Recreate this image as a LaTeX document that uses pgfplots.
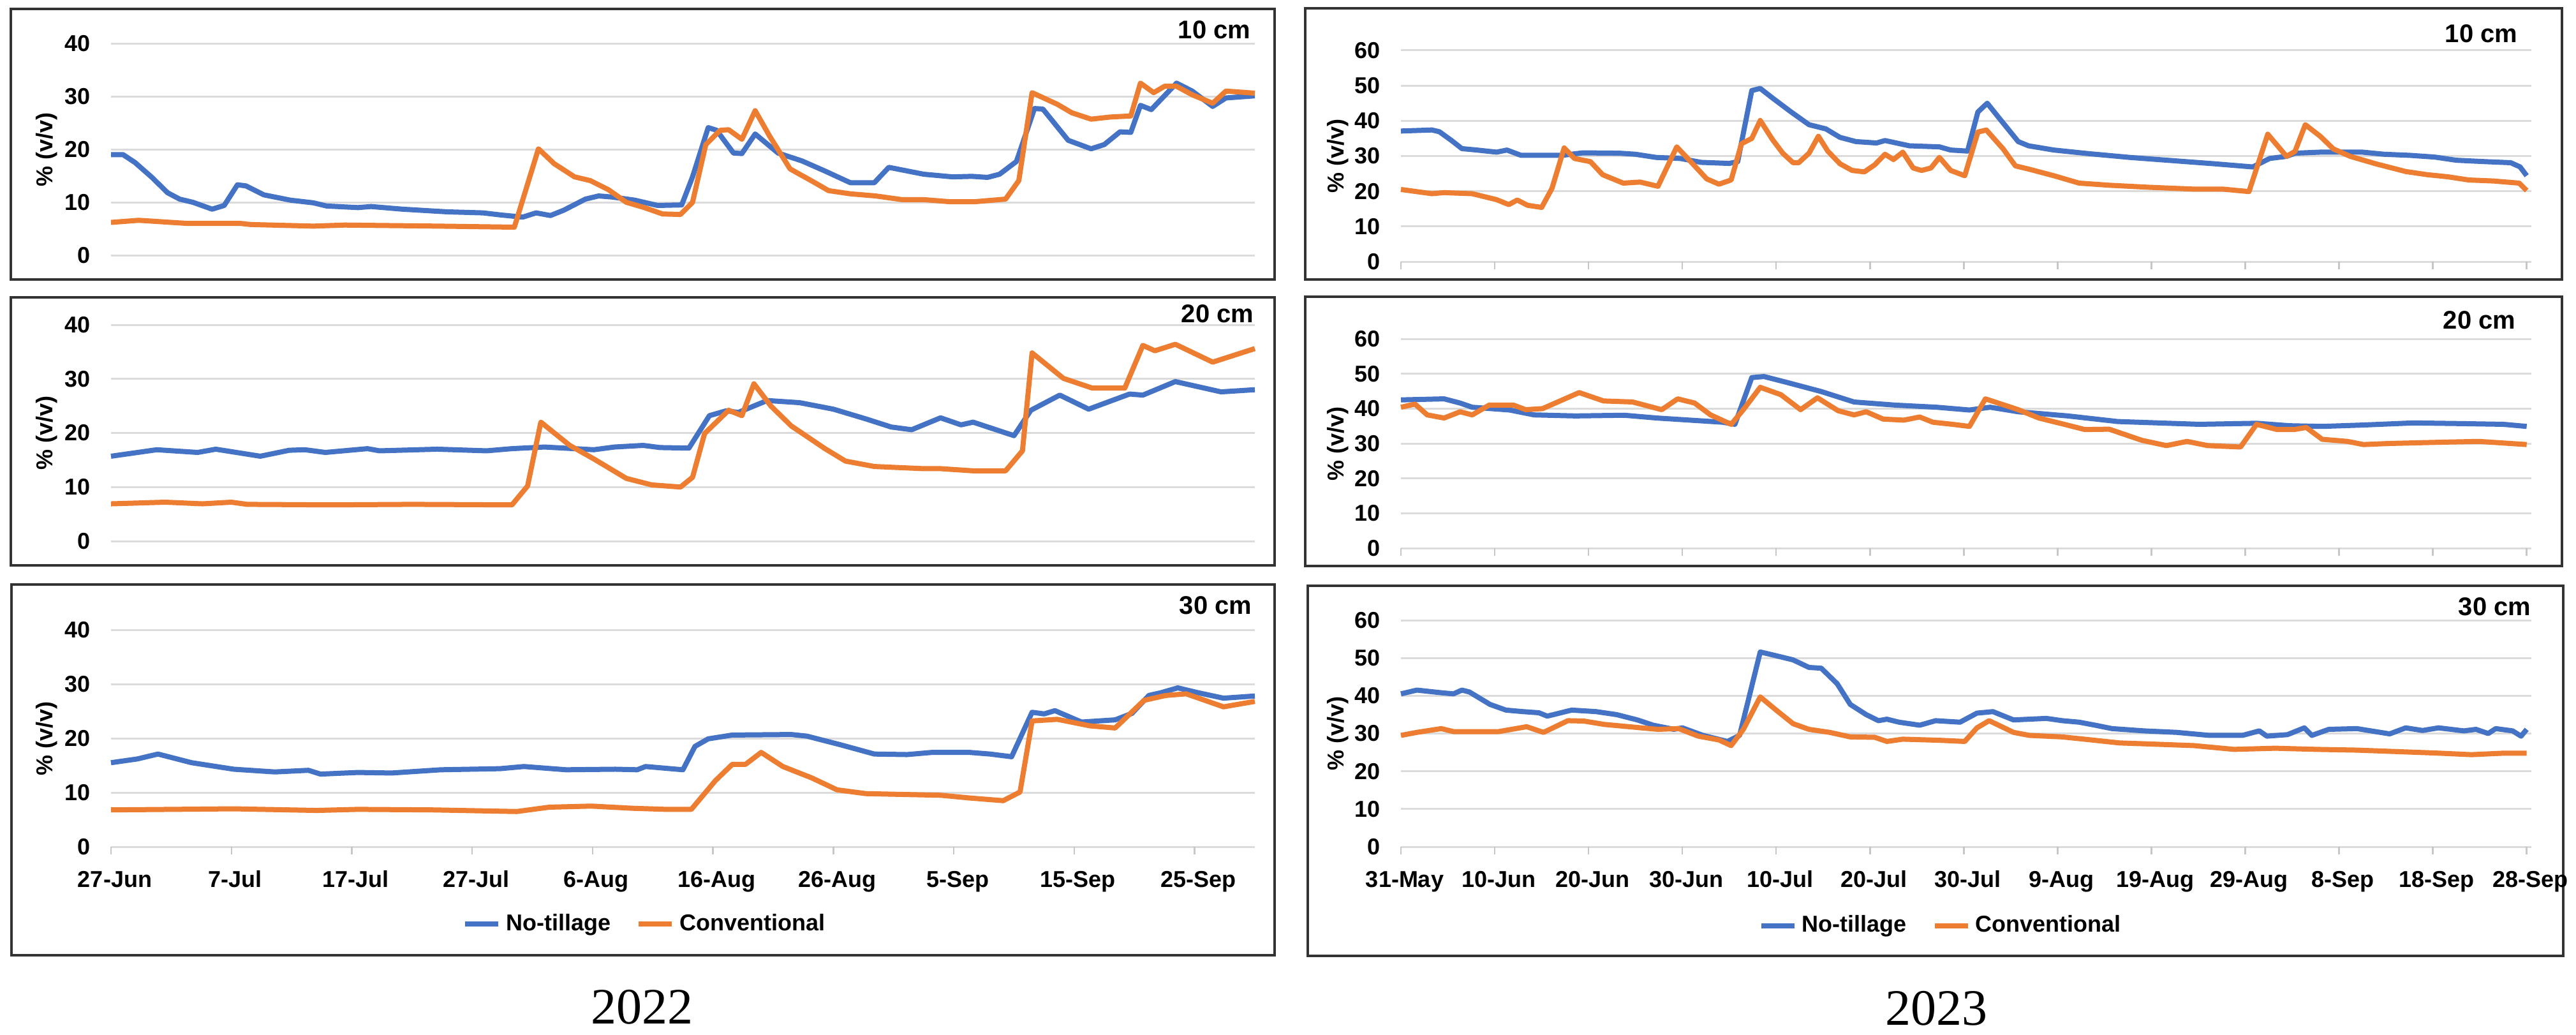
\documentclass[border=0pt]{standalone}
\usepackage{fontspec}
\setmainfont{Liberation Sans}
\newfontfamily\yearfont{Liberation Serif}
\usepackage{pgfplots}
\pgfplotsset{compat=1.18}
\definecolor{ntblue}{HTML}{4472C4}
\definecolor{cvorange}{HTML}{ED7D31}
\newcommand{\tickfont}{\bfseries\fontsize{9}{10}\selectfont}
\pgfplotsset{
  base/.style={
    scale only axis, anchor=south west,
    ymin=0,
    axis line style={draw=none},
    ymajorgrids, grid style={draw=black!14, line width=0.75pt},
    ytick style={draw=none},
    xtick pos=bottom, ytick pos=left,
    tick align=inside, major tick length=3pt,
    xtick style={draw=black!22, line width=0.6pt, yshift=-3pt},
    ticklabel style={font=\tickfont},
    /pgf/number format/assume math mode=true,
    yticklabel style={xshift=-4.5pt},
    xticklabel style={anchor=base, yshift=-15.8pt, xshift=1.5pt},
    ylabel={\% (v/v)},
    ylabel style={font=\tickfont, at={(axis description cs:-0.056,0.5)}, anchor=center},
    clip=false,
    legend style={draw=none, fill=none, legend columns=2, font=\tickfont,
      /tikz/every even column/.append style={column sep=8pt}},
    legend image code/.code={\draw[#1] (0pt,0pt) -- (13pt,0pt);},
  },
  y22/.style={base, width=448.25pt, xmin=0, xmax=95, ymax=40, ytick={0,10,20,30,40}, xtick={0,10,...,90}},
  y23/.style={base, width=443pt, xmin=0, xmax=120.5, ymax=60, ytick={0,10,...,60}, xtick={0,10,...,120}},
  nt/.style={color=ntblue, line width=2pt, mark=none, line join=round},
  cv/.style={color=cvorange, line width=2pt, mark=none, line join=round},
}
\begin{document}
\begin{tikzpicture}
\path[use as bounding box, fill=white] (0,0) rectangle (1009.5pt,-405.25pt);
% frames
\draw[black!80, line width=0.9pt] (4.25pt,-3.5pt) rectangle (499.5pt,-109.5pt);
\draw[black!80, line width=0.9pt] (4.25pt,-116.5pt) rectangle (499.5pt,-221.5pt);
\draw[black!80, line width=0.9pt] (4.5pt,-229pt) rectangle (499.5pt,-374.25pt);
\draw[black!80, line width=0.9pt] (511.5pt,-3.25pt) rectangle (1004pt,-109.5pt);
\draw[black!80, line width=0.9pt] (511.5pt,-116.25pt) rectangle (1004pt,-221.75pt);
\draw[black!80, line width=0.9pt] (512.5pt,-229.5pt) rectangle (1004.5pt,-374.5pt);

% ===== 2022, 10 cm =====
\begin{axis}[y22, at={(43.5pt,-100pt)}, height=83pt, xticklabels={}, xtick style={draw=none}]
\addplot[nt] coordinates {(0,19.0)(1,19.0)(2,17.5)(3.4,14.7)(4.7,11.8)(5.7,10.6)(6.8,10.0)(8.4,8.7)(9.4,9.4)(10.5,13.3)(11.2,13.1)(12.7,11.4)(14.9,10.4)(16.8,9.9)(17.9,9.3)(20.5,9.0)(21.6,9.2)(24.2,8.7)(27.9,8.2)(30.9,8.0)(32.4,7.6)(34.2,7.2)(35.3,8.0)(36.5,7.5)(37.6,8.5)(39.4,10.6)(40.5,11.2)(41.6,11.0)(43.5,10.4)(45.4,9.4)(47.4,9.5)(48.3,14.8)(49.6,24.1)(50.3,23.6)(51.7,19.3)(52.4,19.2)(53.5,22.9)(55.4,19.3)(57.4,17.8)(59.3,15.9)(61.4,13.7)(63.4,13.7)(64.6,16.6)(67.5,15.3)(69.9,14.8)(71.5,14.9)(72.8,14.7)(73.8,15.3)(75.2,17.7)(76.7,27.7)(77.4,27.6)(79.5,21.7)(81.4,20.1)(82.5,20.9)(83.8,23.3)(84.7,23.2)(85.5,28.3)(86.4,27.5)(88.5,32.5)(89.8,31.0)(91.5,28.1)(92.6,29.7)(95,30.1)};
\addplot[cv] coordinates {(0,6.2)(2.3,6.6)(6.4,6.0)(10.8,6.0)(11.6,5.8)(16.8,5.5)(19.4,5.7)(27.2,5.5)(33.5,5.3)(35.5,20.1)(36.8,17.3)(38.5,14.8)(39.8,14.1)(41.3,12.4)(42.8,10.0)(44.3,9.0)(45.8,7.8)(47.3,7.7)(48.3,10.0)(49.4,20.9)(50.6,23.6)(51.3,23.7)(52.4,21.9)(53.5,27.3)(54.7,22.5)(56.4,16.3)(58.3,13.9)(59.6,12.2)(61.4,11.6)(63.5,11.2)(65.7,10.5)(67.5,10.5)(69.7,10.1)(71.7,10.1)(74.3,10.6)(75.4,14.1)(76.5,30.7)(78.6,28.5)(79.8,26.9)(81.4,25.7)(83.0,26.1)(84.7,26.3)(85.5,32.5)(86.6,30.7)(87.5,31.9)(88.5,31.9)(89.8,30.3)(91.5,28.7)(92.6,31.0)(95,30.6)};
\end{axis}

% ===== 2022, 20 cm =====
\begin{axis}[y22, at={(43.5pt,-212pt)}, height=84.75pt, xticklabels={}, xtick style={draw=none}]
\addplot[nt] coordinates {(0,15.7)(3.8,16.9)(7.2,16.4)(8.7,17.0)(12.4,15.7)(14.8,16.8)(16.1,16.9)(17.8,16.4)(21.3,17.1)(22.3,16.7)(27.1,17.0)(31.2,16.7)(33.3,17.1)(36,17.4)(40.1,16.9)(41.8,17.4)(44.2,17.7)(45.6,17.3)(48,17.2)(49.7,23.2)(51.1,24.1)(52.1,23.8)(54.5,26.0)(57.2,25.6)(60,24.4)(62.7,22.6)(64.8,21.1)(66.5,20.6)(68.9,22.8)(70.6,21.5)(71.6,22.0)(75,19.5)(76.4,24.2)(78.8,27.0)(81.2,24.4)(84.6,27.2)(85.7,27.0)(88.4,29.5)(92.2,27.6)(95,28.0)};
\addplot[cv] coordinates {(0,6.9)(4.5,7.2)(7.6,6.9)(10,7.2)(11.3,6.8)(18.2,6.7)(25,6.8)(33.3,6.7)(34.6,10.2)(35.7,22.0)(38.1,17.7)(40.1,15.2)(42.8,11.6)(44.9,10.4)(47.3,10.0)(48.3,11.8)(49.3,19.9)(51.3,24.2)(52.4,23.2)(53.4,29.1)(54.8,25.0)(56.5,21.3)(59.3,17.1)(61,14.8)(63.4,13.8)(67.5,13.4)(68.9,13.4)(71.6,13.0)(74.3,13.0)(75.7,16.7)(76.5,34.8)(79.1,30.1)(81.5,28.3)(84.2,28.3)(85.7,36.2)(86.7,35.2)(88.4,36.4)(91.5,33.1)(95,35.6)};
\end{axis}

% ===== 2022, 30 cm =====
\begin{axis}[y22, at={(43.5pt,-331.75pt)}, height=85pt,
  xticklabels={27-Jun,7-Jul,17-Jul,27-Jul,6-Aug,16-Aug,26-Aug,5-Sep,15-Sep,25-Sep},
  legend style={at={(0.468,-0.356)}, anchor=center}]
\addplot[nt] coordinates {(0,15.5)(2.2,16.2)(3.9,17.1)(6.7,15.5)(10.2,14.3)(13.6,13.8)(16.4,14.1)(17.4,13.4)(20.5,13.7)(23.3,13.6)(27.4,14.2)(32.3,14.4)(34.3,14.8)(37.8,14.2)(41.9,14.3)(43.7,14.2)(44.4,14.8)(47.5,14.2)(48.5,18.5)(49.6,19.9)(51.6,20.6)(56.5,20.7)(57.8,20.4)(60.6,18.8)(63.4,17.1)(66.1,17.0)(68.2,17.4)(71.3,17.4)(73,17.1)(74.8,16.6)(76.5,24.8)(77.5,24.5)(78.4,25.1)(80.6,23.0)(83.4,23.4)(84.8,24.6)(86.2,27.9)(87.2,28.4)(88.6,29.3)(90.3,28.4)(92.4,27.4)(95,27.8)};
\addplot[cv] coordinates {(0,6.8)(10.2,7.0)(17.1,6.7)(20.5,6.9)(26.7,6.8)(33.7,6.5)(36.4,7.3)(39.9,7.5)(43.3,7.1)(46.1,6.9)(48.2,6.9)(50.2,12.2)(51.6,15.2)(52.7,15.2)(54,17.4)(55.8,14.8)(58.2,12.7)(60.3,10.5)(62.7,9.8)(66.8,9.6)(68.9,9.5)(71.3,9.0)(74.1,8.5)(75.5,10.1)(76.5,23.2)(78.6,23.5)(81.3,22.3)(83.4,21.9)(85.8,27.0)(87.6,27.9)(89.3,28.2)(92.4,25.8)(95,26.8)};
\legend{No-tillage,Conventional}
\end{axis}

% ===== 2023, 10 cm =====
\begin{axis}[y23, at={(549pt,-102.5pt)}, height=82.75pt, xticklabels={}]
\addplot[nt] coordinates {(0,37.1)(3.3,37.4)(4.1,36.9)(5.4,34.4)(6.5,32.1)(8.1,31.7)(10.2,31.1)(11.3,31.7)(12.8,30.2)(17.2,30.2)(19.4,30.9)(23.3,30.8)(25,30.5)(27.2,29.6)(29.8,29.3)(32,28.2)(35,27.9)(35.9,28.4)(37.4,48.6)(38.3,49.2)(39.6,46.5)(41.6,42.5)(43.5,38.9)(45.3,37.7)(46.8,35.3)(48.5,34.1)(50.7,33.7)(51.6,34.4)(54.2,32.9)(57.4,32.6)(58.6,31.7)(60.4,31.4)(61.5,42.5)(62.5,45.0)(63.7,41.0)(65.8,34.1)(66.9,32.9)(69.6,31.7)(73.2,30.7)(77.7,29.6)(82.2,28.7)(86.7,27.8)(90.8,26.9)(92.6,29.3)(94.4,29.9)(95.3,30.8)(98,31.1)(102.5,31.1)(104.8,30.5)(107.5,30.2)(110.2,29.7)(112.5,28.8)(115.6,28.4)(118.3,28.1)(119.3,26.9)(120,24.4)};
\addplot[cv] coordinates {(0,20.5)(3.3,19.3)(4.6,19.6)(7.6,19.3)(10.2,17.6)(11.5,16.2)(12.4,17.5)(13.5,16.0)(15,15.4)(16.1,20.8)(17.4,32.3)(18.5,29.3)(20.2,28.4)(21.5,24.7)(23.7,22.3)(25.5,22.6)(27.4,21.4)(29.4,32.6)(31.1,27.8)(32.6,23.5)(33.9,22.0)(35.2,23.2)(36.3,33.5)(37.4,35.0)(38.3,40.1)(39.6,34.7)(40.7,30.8)(41.8,28.1)(42.4,28.1)(43.5,30.8)(44.5,35.6)(45.5,31.4)(46.8,27.8)(48.1,25.9)(49.4,25.5)(50.5,27.5)(51.6,30.5)(52.5,29.0)(53.5,31.1)(54.6,26.6)(55.5,25.9)(56.5,26.6)(57.4,29.6)(58.6,25.9)(60.1,24.4)(61.5,36.8)(62.4,37.4)(64.2,32.0)(65.5,27.2)(66.9,26.3)(69.6,24.4)(72.3,22.3)(75.5,21.7)(79.9,21.1)(84.5,20.6)(87.6,20.6)(90.4,19.9)(92.4,36.2)(94.4,29.9)(95.3,31.3)(96.4,38.9)(98,35.6)(99.4,32.0)(101.2,29.9)(103.9,27.8)(107.1,25.6)(109.4,24.7)(111.6,24.1)(113.8,23.2)(116.5,22.9)(119.2,22.3)(120,20.2)};
\end{axis}

% ===== 2023, 20 cm =====
\begin{axis}[y23, at={(549pt,-214.75pt)}, height=82pt, xticklabels={}]
\addplot[nt] coordinates {(0,42.5)(4.6,42.8)(6.3,41.6)(7.6,40.4)(11.6,39.6)(14.2,38.2)(18.6,37.9)(23.8,38.1)(27.3,37.3)(30.8,36.7)(34.3,36.1)(35.6,35.5)(37.4,48.9)(38.7,49.2)(41.3,47.4)(44.8,44.9)(48.3,41.9)(52.7,41.0)(57.1,40.4)(60.6,39.6)(62.8,40.4)(65.8,39.1)(71.1,37.9)(76.4,36.3)(80.7,35.9)(85.1,35.5)(91.2,35.8)(94.7,35.1)(98.2,34.9)(102.6,35.3)(107.9,35.9)(113.1,35.7)(117.5,35.5)(120,34.9)};
\addplot[cv] coordinates {(0,40.4)(1.5,41.3)(2.8,38.2)(4.6,37.3)(6.3,39.1)(7.6,38.2)(9.4,41.0)(12,41.0)(13.3,39.7)(15.1,40.0)(19,44.6)(21.6,42.2)(24.7,41.9)(27.8,39.7)(29.5,42.8)(31.3,41.6)(33,38.2)(35.2,35.5)(36.5,39.7)(38.3,46.1)(40.5,44.0)(42.6,39.7)(44.4,43.1)(46.6,39.4)(48.3,38.2)(49.6,39.1)(51.4,37.0)(53.6,36.7)(55.3,37.6)(56.7,36.1)(58.8,35.5)(60.6,34.9)(62.3,42.8)(65.8,39.7)(68,37.3)(70.7,35.5)(72.9,34.0)(75.5,34.1)(79,30.9)(81.6,29.4)(83.8,30.6)(86,29.4)(89.5,29.0)(91.2,35.5)(93.4,34.0)(95.2,34.0)(96.5,34.6)(98.2,31.2)(100.9,30.6)(102.6,29.7)(105.3,30.0)(111.4,30.4)(114.9,30.6)(120,29.7)};
\end{axis}

% ===== 2023, 30 cm =====
\begin{axis}[y23, at={(549pt,-331.75pt)}, height=88.75pt,
  xticklabels={31-May,10-Jun,20-Jun,30-Jun,10-Jul,20-Jul,30-Jul,9-Aug,19-Aug,29-Aug,8-Sep,18-Sep,28-Sep},
  legend style={at={(0.479,-0.349)}, anchor=center}]
\addplot[nt] coordinates {(0,40.5)(1.7,41.5)(4.3,40.8)(5.6,40.5)(6.5,41.5)(7.3,41.0)(9.5,37.7)(11.2,36.2)(13,35.8)(14.7,35.5)(15.6,34.6)(18.2,36.2)(20.8,35.8)(23,35.0)(25.2,33.6)(26.9,32.2)(29.1,31.1)(30,31.5)(32.2,29.5)(34.8,27.9)(36.1,29.5)(38.3,51.6)(40,50.6)(41.8,49.5)(43.5,47.5)(44.8,47.3)(46.5,43.2)(47.9,37.7)(49.6,35.0)(50.9,33.4)(51.8,33.8)(53.1,33.0)(55.3,32.2)(57,33.4)(59.6,33.0)(61.4,35.4)(63.1,35.8)(65.3,33.6)(68.8,34.0)(70.5,33.4)(72.3,33.0)(74,32.2)(75.8,31.3)(79.2,30.7)(82.7,30.3)(86.2,29.5)(89.7,29.5)(91.5,30.7)(92.3,29.3)(94.5,29.7)(96.3,31.5)(97.1,29.5)(98.9,31.1)(101.9,31.3)(105.4,29.9)(107.1,31.5)(108.9,30.8)(110.6,31.5)(113.3,30.7)(114.6,31.1)(115.9,30.0)(116.7,31.3)(118.5,30.7)(119.4,29.3)(120,31.1)};
\addplot[cv] coordinates {(0,29.5)(1.7,30.3)(4.3,31.3)(5.6,30.5)(10.4,30.5)(13.4,31.8)(15.2,30.3)(17.8,33.4)(19.5,33.3)(21.7,32.4)(25.2,31.6)(27.4,31.1)(29.6,31.3)(31.7,29.3)(33.9,28.3)(35.2,26.8)(36.5,31.1)(38.3,39.7)(40,36.2)(41.8,32.6)(43.5,31.1)(45.7,30.3)(47.9,29.1)(50.5,29.0)(51.8,27.9)(53.5,28.5)(57.5,28.2)(60.1,27.9)(61.4,31.5)(62.7,33.4)(65.3,30.3)(67,29.5)(70.5,29.1)(73.6,28.3)(76.6,27.5)(80.1,27.2)(84.5,26.8)(88.8,25.8)(93.2,26.1)(97.6,25.8)(101.9,25.6)(106.3,25.2)(110.6,24.8)(114.1,24.4)(117.6,24.8)(120,24.8)};
\legend{No-tillage,Conventional}
\end{axis}

% panel labels
\begin{scope}[every node/.style={font=\bfseries\fontsize{10}{12}\selectfont, inner sep=0pt, anchor=east}]
\node at (490.25pt,-11.75pt) {10 cm};
\node at (491.5pt,-123pt) {20 cm};
\node at (490.75pt,-237.25pt) {30 cm};
\node at (986.75pt,-13.25pt) {10 cm};
\node at (986pt,-125.5pt) {20 cm};
\node at (992pt,-237.75pt) {30 cm};
\end{scope}
% year labels
\node[font=\yearfont\fontsize{20}{24}\selectfont, inner sep=0pt] at (251.5pt,-394.5pt) {2022};
\node[font=\yearfont\fontsize{20}{24}\selectfont, inner sep=0pt] at (758.75pt,-395pt) {2023};
\end{tikzpicture}
\end{document}
